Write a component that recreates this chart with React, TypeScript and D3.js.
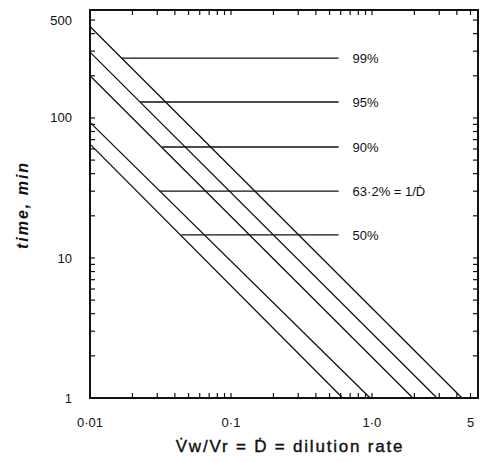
import React, { useEffect, useRef } from "react";
import * as d3 from "d3";

// dilution curves: time at D = 0.01 and rate where time reaches 1 min
const curveNames = ["99%", "95%", "90%", "63·2%", "50%"];
const curveStartTime = [450, 295, 200, 93, 65];
const curveEndRate = [4.35, 2.89, 1.95, 0.97, 0.62];

// horizontal marker lines and their labels
const markTime = [267, 130, 62, 30, 14.6];
const markStartRate = [0.0168, 0.0227, 0.0325, 0.031, 0.0445];
const markEndRate = [0.58, 0.58, 0.58, 0.58, 0.58];
const markLabels = ["99%", "95%", "90%", "63·2% = 1/Ḋ", "50%"];

const xTickValues = [0.01, 0.1, 1, 5];
const xTickLabels = ["0·01", "0·1", "1·0", "5"];
const yTickValues = [1, 10, 100, 500];
const yTickLabels = ["1", "10", "100", "500"];

const App = () => {
  const svgRef = useRef<SVGSVGElement>(null);

  useEffect(() => {
    const svg = d3.select(svgRef.current);
    svg.selectAll("*").remove();

    const margin = { top: 10, right: 2, bottom: 64, left: 90 };
    const W = 480, H = 462;
    const width = W - margin.left - margin.right;
    const height = H - margin.top - margin.bottom;

    const x = d3.scaleLog().domain([0.01, 5.65]).range([0, width]);
    const y = d3.scaleLog().domain([1, 590]).range([height, 0]);

    const g = svg.append("g").attr("transform", `translate(${margin.left},${margin.top})`);
    const font = "'Liberation Sans', Arial, sans-serif";

    // minor/major tick positions
    const xTicks: number[] = [];
    [0.01, 0.1, 1].forEach(d => { for (let i = 1; i <= 9; i++) { const v = d * i; if (v <= 5.01) xTicks.push(v); } });
    const yTicks: number[] = [];
    [1, 10, 100].forEach(d => { for (let i = 1; i <= 9; i++) { const v = d * i; if (v <= 500) yTicks.push(v); } });

    const tl = 5;
    const ticks = g.append("g").attr("stroke", "#111").attr("stroke-width", 1.2);
    xTicks.forEach(v => {
      ticks.append("line").attr("x1", x(v)).attr("x2", x(v)).attr("y1", height).attr("y2", height - tl);
      ticks.append("line").attr("x1", x(v)).attr("x2", x(v)).attr("y1", 0).attr("y2", tl);
    });
    yTicks.forEach(v => {
      ticks.append("line").attr("x1", 0).attr("x2", tl).attr("y1", y(v)).attr("y2", y(v));
      ticks.append("line").attr("x1", width).attr("x2", width - tl).attr("y1", y(v)).attr("y2", y(v));
    });

    // diagonal curves
    const line = d3.line<[number, number]>().x(d => x(d[0])).y(d => y(d[1]));
    curveNames.forEach((name, i) => {
      g.append("path")
        .datum([[0.01, curveStartTime[i]], [curveEndRate[i], 1]] as [number, number][])
        .attr("d", line)
        .attr("fill", "none")
        .attr("stroke", "#111")
        .attr("stroke-width", 1.3);
    });

    // horizontal markers
    markLabels.forEach((lab, i) => {
      g.append("line")
        .attr("x1", x(markStartRate[i])).attr("x2", x(markEndRate[i]))
        .attr("y1", y(markTime[i])).attr("y2", y(markTime[i]))
        .attr("stroke", "#111").attr("stroke-width", 1.3);
      g.append("text")
        .attr("x", x(markEndRate[i]) + 14)
        .attr("y", y(markTime[i]))
        .attr("dy", "0.35em")
        .attr("font-family", font)
        .attr("font-size", 13)
        .attr("fill", "#111")
        .text(lab);
    });

    // frame
    g.append("rect")
      .attr("width", width).attr("height", height)
      .attr("fill", "none").attr("stroke", "#111").attr("stroke-width", 2);

    // tick labels
    xTickValues.forEach((v, i) => {
      g.append("text")
        .attr("x", x(v)).attr("y", height + 29)
        .attr("text-anchor", "middle")
        .attr("font-family", font).attr("font-size", 13).attr("fill", "#111")
        .text(xTickLabels[i]);
    });
    yTickValues.forEach((v, i) => {
      g.append("text")
        .attr("x", -18).attr("y", y(v)).attr("dy", "0.35em")
        .attr("text-anchor", "end")
        .attr("font-family", font).attr("font-size", 13).attr("fill", "#111")
        .text(yTickLabels[i]);
    });

    // axis titles
    g.append("text")
      .attr("x", 200).attr("y", height + 54)
      .attr("text-anchor", "middle")
      .attr("font-family", font).attr("font-size", 17)
      .attr("stroke", "#111").attr("stroke-width", 0.4)
      .attr("letter-spacing", 1.8).attr("fill", "#111")
      .text("V̇w/Vr = Ḋ = dilution rate");

    g.append("text")
      .attr("transform", `translate(${-62},${195}) rotate(-90)`)
      .attr("text-anchor", "middle")
      .attr("font-family", font).attr("font-size", 16).attr("font-weight", "bold")
      .attr("font-style", "italic").attr("letter-spacing", 2).attr("fill", "#111")
      .text("time, min");
  }, []);

  return (
    <div style={{ position: "absolute", left: 0, top: 0 }}>
      <svg ref={svgRef} width={480} height={462} style={{ display: "block", background: "#fff" }} />
    </div>
  );
};

export default App;
